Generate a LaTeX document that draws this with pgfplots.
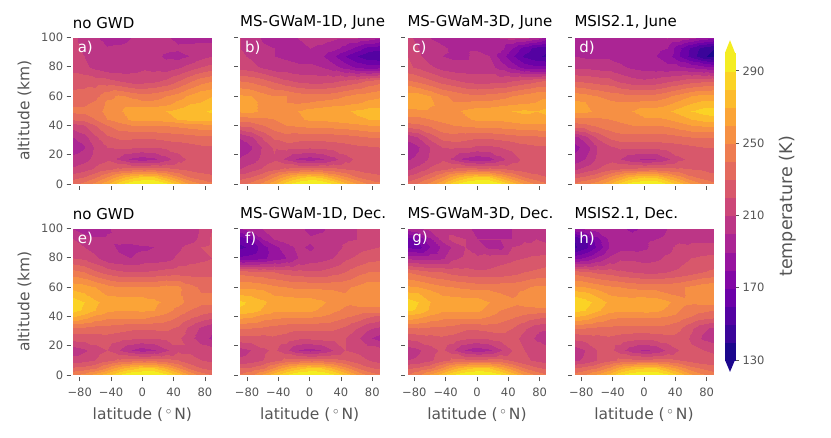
\documentclass[border=0pt]{standalone}
\usepackage{pgfplots}
\usepackage{fontspec}
\setmainfont{DejaVu Sans}
\pgfplotsset{compat=1.18}

% plasma bands, 130-300 K in steps of 10
\definecolor{pl0}{RGB}{28,7,141}\definecolor{pl1}{RGB}{59,5,154}\definecolor{pl2}{RGB}{84,2,162}
\definecolor{pl3}{RGB}{108,1,168}\definecolor{pl4}{RGB}{130,8,165}\definecolor{pl5}{RGB}{151,20,159}
\definecolor{pl6}{RGB}{171,37,148}\definecolor{pl7}{RGB}{188,54,134}\definecolor{pl8}{RGB}{204,71,120}
\definecolor{pl9}{RGB}{216,88,107}\definecolor{pl10}{RGB}{228,106,94}\definecolor{pl11}{RGB}{238,124,81}
\definecolor{pl12}{RGB}{246,144,68}\definecolor{pl13}{RGB}{251,164,55}\definecolor{pl14}{RGB}{252,187,45}
\definecolor{pl15}{RGB}{251,211,37}\definecolor{pl16}{RGB}{244,237,34}
\definecolor{tickgray}{RGB}{85,85,85}

\pgfplotsset{
  colormap={bands}{rgb255=(28,7,141) rgb255=(59,5,154) rgb255=(84,2,162) rgb255=(108,1,168)
    rgb255=(130,8,165) rgb255=(151,20,159) rgb255=(171,37,148) rgb255=(188,54,134) rgb255=(204,71,120)
    rgb255=(216,88,107) rgb255=(228,106,94) rgb255=(238,124,81) rgb255=(246,144,68) rgb255=(251,164,55)
    rgb255=(252,187,45) rgb255=(251,211,37) rgb255=(244,237,34)},
  panel/.style={
    scale only axis,width=139.3pt,height=146.7pt,anchor=south west,view={0}{90},
    xmin=-89,xmax=89,ymin=0,ymax=100,
    xtick={-80,-40,0,40,80},ytick={0,20,40,60,80,100},
    axis line style={draw=none},
    tick align=outside,xtick pos=bottom,ytick pos=left,
    major tick length=4pt,
    xtick style={color=tickgray,line width=0.8pt,yshift=-2pt},
    ytick style={color=tickgray,line width=0.8pt,xshift=-2pt},
    tick label style={font=\fontsize{11.5}{13}\selectfont,text=tickgray},
    xticklabels={},yticklabels={},
    title style={at={(0,1)},anchor=south west,inner xsep=0pt,inner ysep=0pt,yshift=2pt,
      font=\fontsize{15}{17}\selectfont},
    xlabel style={font=\fontsize{15.5}{17}\selectfont,text=tickgray,yshift=-5pt},
    ylabel style={font=\fontsize{15.5}{17}\selectfont,text=tickgray,yshift=3pt},
    colormap name=bands,point meta min=130,point meta max=300,
  },
  bottomrow/.style={xticklabels={−80,−40,0,40,80},xlabel={latitude (\,$^\circ$\,N)},
    xticklabel style={yshift=-5pt}},
  leftcol/.style={yticklabels={0,20,40,60,80,100},ylabel={altitude (km)},
    yticklabel style={xshift=-2pt}},
}

\def\lats{{-89,-75,-60,-45,-30,-15,0,15,30,45,60,75,89}}
\def\alts{{0.5,5,10,17,25,32,40,44,50,56,60,70,80,87,93,99.5}}

% rows run from the ground up, one value per latitude
\newcommand\buildcoords[1]{%
  \gdef\coords{}%
  \foreach \row [count=\j from 0] in {#1} {%
    \pgfmathsetmacro\al{\alts[\j]}%
    \foreach \v [count=\i from 0] in \row {%
      \pgfmathsetmacro\la{\lats[\i]}%
      \xdef\coords{\coords (\la,\al,\v)}%
    }%
  }%
}
\newcommand\field[1]{%
  \buildcoords{#1}%
  \edef\temp{\noexpand\addplot3[surf,shader=interp,colormap access=piecewise constant,
    mesh/cols=13,mesh/rows=16] coordinates {\coords};}\temp
}
\newcommand\tag[1]{\node[anchor=west,text=white,font=\fontsize{15}{17}\selectfont,inner sep=0pt]
  at (rel axis cs:0.035,0.93,1) {#1};}

\def\dataA{
{236,242,252,266,284,296,300,300,290,274,258,248,242},
{226,230,238,250,264,276,282,280,266,252,240,234,232},
{212,216,222,228,232,234,234,236,234,230,228,227,226},
{203,206,214,218,208,198,195,198,206,216,222,224,224},
{195,199,212,220,222,222,220,220,222,224,226,228,228},
{200,206,218,228,232,232,232,232,234,235,236,238,238},
{216,220,230,240,247,250,250,250,251,253,255,257,258},
{232,234,240,250,254,262,263,264,265,271,274,274,275},
{242,242,245,254,258,266,267,268,270,273,277,278,282},
{238,238,241,252,255,254,252,252,255,262,268,270,272},
{233,234,237,246,252,248,245,246,250,255,262,268,270},
{226,226,225,224,220,216,216,218,222,230,238,246,250},
{216,213,207,203,204,206,208,206,204,208,214,220,224},
{214,210,204,200,201,203,206,203,198,196,200,206,210},
{213,208,204,201,202,204,206,205,203,202,203,204,205},
{212,207,202,196,196,200,205,204,202,197,196,196,196}}
\def\dataB{
{236,242,252,266,284,296,300,298,288,272,258,248,242},
{226,230,238,250,264,276,282,278,264,252,240,234,232},
{210,216,222,228,232,234,234,236,234,230,228,227,226},
{201,204,214,218,208,198,195,198,206,216,222,224,224},
{195,199,212,222,224,224,222,222,224,226,228,229,230},
{201,208,222,232,236,234,234,234,235,236,238,240,240},
{232,234,240,246,250,252,254,254,255,256,258,260,260},
{244,246,248,250,254,258,262,262,264,266,268,270,270},
{262,262,258,254,254,260,264,266,268,268,272,274,274},
{264,262,258,252,250,248,250,252,254,256,258,262,264},
{262,260,254,250,250,246,244,244,246,250,254,256,258},
{240,238,234,228,222,218,216,216,218,222,226,232,236},
{216,214,208,204,204,202,202,200,194,186,178,174,176},
{212,208,202,200,198,196,196,192,182,170,160,152,150},
{210,206,202,200,198,198,200,198,194,186,176,166,164},
{210,206,198,194,194,200,204,204,202,200,200,196,190}}
\def\dataC{
{232,240,252,266,284,296,300,300,290,274,258,246,240},
{222,228,238,250,264,276,282,280,266,252,240,234,230},
{208,214,222,228,232,234,234,234,232,228,226,225,224},
{199,202,212,218,208,197,193,196,206,216,222,224,224},
{195,199,210,220,222,222,218,218,220,222,226,228,228},
{203,210,224,234,236,234,232,232,234,236,238,238,240},
{236,238,242,248,250,252,254,254,255,256,258,258,258},
{246,246,250,252,254,258,262,262,262,264,266,266,266},
{258,258,258,256,256,262,265,266,268,270,272,270,274},
{266,268,262,254,250,250,252,252,254,256,258,260,262},
{266,266,260,252,248,244,242,244,246,250,254,258,258},
{242,238,232,226,222,218,216,216,216,220,224,228,232},
{222,218,212,206,204,204,204,204,196,186,176,172,172},
{220,212,204,200,198,198,204,200,186,172,158,152,148},
{216,210,206,202,198,198,198,198,194,180,166,156,152},
{212,208,200,196,194,194,196,194,200,204,202,196,184}}
\def\dataD{
{240,246,254,266,282,294,298,298,288,274,258,248,242},
{228,232,238,250,262,274,280,278,266,254,242,236,232},
{208,214,220,226,230,232,234,236,234,232,230,229,228},
{193,200,212,216,210,203,198,200,208,218,222,224,224},
{186,194,210,218,222,222,222,222,224,226,228,230,230},
{196,206,222,232,236,236,236,236,236,238,240,240,240},
{236,238,242,246,248,250,250,250,252,256,260,262,264},
{246,246,248,250,252,256,258,258,260,264,270,274,276},
{262,262,258,254,254,260,266,266,268,274,280,284,285},
{262,260,256,252,250,250,252,252,256,262,268,272,272},
{256,254,250,246,244,242,242,244,248,254,260,264,264},
{230,228,226,224,218,214,212,214,218,222,226,228,230},
{208,208,206,206,202,198,196,194,192,192,188,184,180},
{200,198,198,198,196,194,192,190,186,170,156,142,136},
{198,196,194,192,192,192,192,192,190,172,158,146,140},
{198,194,192,192,192,194,198,198,200,198,192,186,182}}
\def\dataE{
{246,252,262,274,288,298,298,300,290,276,258,244,238},
{232,234,238,252,266,276,282,280,268,252,238,230,226},
{214,216,220,226,232,234,234,236,234,230,224,220,218},
{204,208,216,220,210,200,195,199,208,218,218,216,214},
{224,224,224,226,224,222,220,220,222,222,214,204,198},
{238,238,236,236,234,232,232,232,232,228,218,208,202},
{272,266,258,254,254,254,254,250,246,240,234,228,224},
{284,278,270,262,260,260,262,260,254,246,240,236,234},
{286,280,272,266,266,266,266,262,258,254,246,242,242},
{274,270,264,258,256,256,256,256,256,252,244,240,240},
{266,264,260,254,250,250,250,250,254,252,244,238,238},
{244,240,232,226,222,220,220,222,224,226,226,226,226},
{220,218,212,204,202,200,204,204,206,212,216,218,220},
{214,210,206,204,198,196,198,200,204,208,214,220,222},
{210,206,202,202,204,206,206,204,200,202,204,214,222},
{200,194,192,198,204,206,206,206,204,200,200,212,220}}
\def\dataF{
{240,246,260,274,288,298,300,298,290,276,258,246,240},
{230,232,238,252,266,276,282,280,268,254,240,232,228},
{212,214,220,226,232,234,234,236,234,230,224,220,216},
{206,210,218,222,212,200,196,200,210,220,218,214,214},
{226,226,226,228,226,222,222,222,222,220,212,202,196},
{240,240,238,236,234,232,232,232,232,228,220,212,208},
{264,262,256,254,252,252,252,250,246,242,238,232,228},
{278,276,268,262,262,262,262,258,252,248,246,246,246},
{282,278,272,266,266,266,266,262,256,252,254,256,256},
{268,266,264,258,256,254,254,254,252,250,254,258,258},
{258,258,256,252,250,248,248,248,248,248,252,256,256},
{236,234,232,230,226,224,222,222,226,230,236,240,240},
{172,174,178,184,190,200,204,206,210,218,222,226,228},
{158,162,176,186,196,202,198,204,204,212,216,218,220},
{164,170,190,200,204,206,202,204,206,208,210,212,214},
{188,196,200,204,206,204,196,198,204,208,210,212,212}}
\def\dataG{
{238,246,260,274,288,298,300,298,290,276,258,246,240},
{228,232,238,252,266,276,282,280,268,254,240,232,228},
{210,212,218,226,232,232,232,234,234,228,222,218,216},
{204,208,216,222,212,199,194,198,208,220,220,216,214},
{222,224,226,228,226,222,220,222,224,224,216,208,202},
{238,240,238,238,236,232,232,234,234,230,222,214,212},
{268,264,258,254,254,254,254,250,246,242,238,234,232},
{282,278,268,262,262,262,262,256,250,248,246,246,246},
{286,280,270,266,266,266,266,260,254,252,254,258,260},
{272,270,264,258,256,254,254,254,250,248,252,256,256},
{262,260,256,252,250,248,246,246,246,246,248,252,252},
{240,236,232,230,226,224,222,222,224,226,230,232,234},
{198,196,196,198,208,212,212,214,216,218,220,222,224},
{168,166,180,192,202,210,204,198,196,210,214,212,212},
{164,172,188,204,214,210,200,200,200,200,208,210,208},
{194,198,202,204,204,204,196,192,194,200,204,204,204}}
\def\dataH{
{242,248,260,272,286,296,298,298,290,276,260,250,244},
{230,234,240,252,266,276,280,280,268,256,244,238,234},
{208,212,220,226,232,232,232,234,234,230,226,224,224},
{204,210,220,224,214,204,198,202,212,220,222,220,218},
{222,224,226,228,226,224,222,224,226,226,218,208,204},
{240,240,238,238,236,236,236,236,236,232,222,212,208},
{272,268,260,254,252,252,252,252,250,246,240,236,234},
{284,280,272,264,262,262,264,262,258,250,244,242,240},
{288,284,276,268,266,266,268,266,262,254,252,254,254},
{276,272,266,258,256,254,254,254,250,248,252,256,258},
{262,260,256,252,250,248,246,246,246,248,252,256,258},
{236,232,228,226,222,220,218,218,220,222,226,230,232},
{176,182,192,202,208,208,206,208,212,216,220,222,224},
{148,156,172,190,196,196,198,204,206,214,212,212,212},
{150,158,176,192,194,194,198,200,202,206,208,208,208},
{186,190,194,196,192,188,192,196,200,202,206,208,208}}

\begin{document}
\begin{tikzpicture}[x=1pt,y=1pt]
\path[use as bounding box] (0,0) rectangle (831,437);

\begin{axis}[panel,leftcol,at={(72.7pt,253pt)},title={no GWD}]
\expandafter\field\expandafter{\dataA}\tag{a)}
\end{axis}
\begin{axis}[panel,at={(240pt,253pt)},title={MS-GWaM-1D, June}]
\expandafter\field\expandafter{\dataB}\tag{b)}
\end{axis}
\begin{axis}[panel,at={(407.3pt,253pt)},title={MS-GWaM-3D, June}]
\expandafter\field\expandafter{\dataC}\tag{c)}
\end{axis}
\begin{axis}[panel,at={(574.3pt,253pt)},title={MSIS2.1, June}]
\expandafter\field\expandafter{\dataD}\tag{d)}
\end{axis}

\begin{axis}[panel,leftcol,bottomrow,at={(72.7pt,62pt)},title={no GWD}]
\expandafter\field\expandafter{\dataE}\tag{e)}
\end{axis}
\begin{axis}[panel,bottomrow,at={(240pt,62pt)},title={MS-GWaM-1D, Dec.}]
\expandafter\field\expandafter{\dataF}\tag{f)}
\end{axis}
\begin{axis}[panel,bottomrow,at={(407.3pt,62pt)},title={MS-GWaM-3D, Dec.}]
\expandafter\field\expandafter{\dataG}\tag{g)}
\end{axis}
\begin{axis}[panel,bottomrow,at={(574.3pt,62pt)},title={MSIS2.1, Dec.}]
\expandafter\field\expandafter{\dataH}\tag{h)}
\end{axis}

% colour bar
\begin{axis}[scale only axis,width=10pt,height=307.2pt,anchor=south west,at={(725pt,77pt)},
  xmin=0,xmax=1,ymin=130,ymax=300,clip=false,
  axis line style={draw=none},xtick=\empty,
  ytick={130,170,210,250,290},ytick pos=right,yticklabel pos=right,tick align=outside,
  major tick length=4pt,ytick style={color=tickgray,line width=0.8pt},
  /pgf/number format/assume math mode=true,
  tick label style={font=\fontsize{11.5}{13}\selectfont,text=tickgray},
  ylabel={temperature (K)},ylabel near ticks,
  ylabel style={font=\fontsize{17.5}{19}\selectfont,text=tickgray,yshift=-8pt}]
\pgfplotsinvokeforeach{0,...,16}{
  \pgfmathsetmacro\lo{130+10*#1}\pgfmathsetmacro\hi{140+10*#1}
  \edef\temp{\noexpand\addplot[fill=pl#1,draw=pl#1,line width=0.1pt] coordinates {(0,\lo)(1,\lo)(1,\hi)(0,\hi)} -- cycle;}\temp
}
\addplot[fill=pl16,draw=none] coordinates {(0,300)(1,300)(0.5,307)} -- cycle;
\addplot[fill=pl0,draw=none] coordinates {(0,130)(1,130)(0.5,123.4)} -- cycle;
\end{axis}
\end{tikzpicture}
\end{document}
